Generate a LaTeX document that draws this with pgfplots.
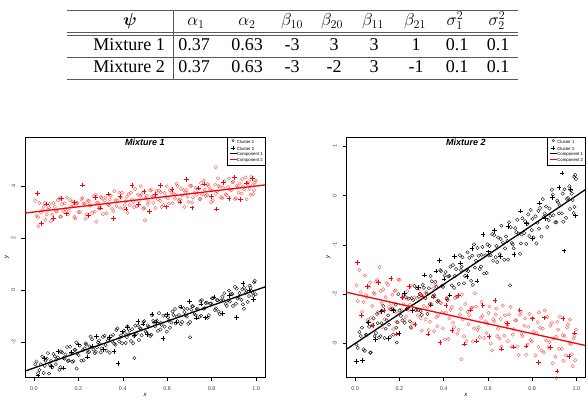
\documentclass[border=0pt]{standalone}
\usepackage{pgfplots}
\pgfplotsset{compat=1.18}
\usepackage{bm}
\usepackage{fontspec}
\setmainfont{Liberation Serif}
\newfontfamily\hv{Liberation Sans}
\definecolor{rulegray}{gray}{0.35}
\begin{document}
\begin{tikzpicture}
\path[use as bounding box] (0pt,0pt) rectangle (588pt,399pt);
% ---------- parameter table ----------
\begin{scope}[every node/.style={font=\fontsize{18}{20}\selectfont, anchor=base, inner sep=0pt}]
\draw[rulegray, line width=0.8pt] (67pt,389pt) -- (518pt,389pt);
\draw[rulegray, line width=0.8pt] (67pt,366.7pt) -- (518pt,366.7pt);
\draw[rulegray, line width=0.8pt] (67pt,364pt) -- (518pt,364pt);
\draw[rulegray, line width=0.8pt] (67pt,341.7pt) -- (518pt,341.7pt);
\draw[rulegray, line width=0.8pt] (67pt,320pt) -- (518pt,320pt);
\draw[rulegray, line width=0.8pt] (173pt,389pt) -- (173pt,320pt);
\node at (130pt,373.5pt) {$\bm{\psi}$};
\node at (196pt,373.5pt) {$\alpha_1$};
\node at (247pt,373.5pt) {$\alpha_2$};
\node at (292pt,373.5pt) {$\beta_{10}$};
\node at (332pt,373.5pt) {$\beta_{20}$};
\node at (373pt,373.5pt) {$\beta_{11}$};
\node at (415pt,373.5pt) {$\beta_{21}$};
\node at (455pt,373.5pt) {$\sigma_1^2$};
\node at (497pt,373.5pt) {$\sigma_2^2$};
\node at (129pt,348.3pt) {Mixture 1};
\node at (194pt,348.3pt) {0.37};
\node at (247pt,348.3pt) {0.63};
\node at (292pt,348.3pt) {-3};
\node at (334pt,348.3pt) {3};
\node at (374pt,348.3pt) {3};
\node at (416pt,348.3pt) {1};
\node at (457pt,348.3pt) {0.1};
\node at (498pt,348.3pt) {0.1};
\node at (129pt,326.3pt) {Mixture 2};
\node at (194pt,326.3pt) {0.37};
\node at (247pt,326.3pt) {0.63};
\node at (292pt,326.3pt) {-3};
\node at (334pt,326.3pt) {-2};
\node at (374pt,326.3pt) {3};
\node at (416pt,326.3pt) {-1};
\node at (457pt,326.3pt) {0.1};
\node at (498pt,326.3pt) {0.1};
\end{scope}
% ---------- common style ----------
\pgfplotsset{
  rplot/.style={
    scale only axis, width=240pt, height=240pt,
    anchor=south west, clip=false,
    axis line style={black, line width=0.6pt},
    tick align=outside, major tick length=3.5pt,
    tick style={black, line width=0.5pt},
    xtick pos=bottom, ytick pos=left,
    xmin=-0.04, xmax=1.04,
    xtick={0,0.2,0.4,0.6,0.8,1.0},
    xticklabels={0.0,0.2,0.4,0.6,0.8,1.0},
    tick label style={font=\hv\fontsize{5.5}{6}\selectfont, text=black!75, inner sep=0pt},
    xticklabel style={anchor=north},
    yticklabel style={rotate=90, anchor=south},
    xticklabel shift=6pt, yticklabel shift=6pt,
    xlabel={x}, ylabel={y},
    xlabel style={font=\hv\itshape\fontsize{6}{7}\selectfont, at={(axis description cs:0.5,-0.075)}, anchor=center},
    ylabel style={font=\hv\itshape\fontsize{6}{7}\selectfont, at={(axis description cs:-0.075,0.5)}, anchor=center, rotate=0},
    title style={font=\hv\bfseries\itshape\fontsize{9}{10}\selectfont, at={(axis description cs:0.5,1)}, anchor=north, yshift=-4pt},
    legend cell align=left,
    legend style={at={(1,1)}, anchor=north east, draw=black, line width=0.4pt,
      font=\hv\fontsize{4.3}{5}\selectfont, inner xsep=2pt, inner ysep=2.2pt,
      row sep=1.6pt, nodes={inner sep=0pt, text height=3.2pt, text depth=0.9pt},
      /tikz/every even column/.append style={column sep=3pt}},
  },
  bc/.style={only marks, mark=o, black, mark size=1.7pt, mark options={line width=0.35pt}, forget plot},
  bp/.style={only marks, mark=+, black, mark size=2.3pt, mark options={line width=0.75pt}, forget plot},
  rc/.style={only marks, mark=o, red, mark size=1.7pt, mark options={line width=0.35pt, draw opacity=0.7}, forget plot},
  rp/.style={only marks, mark=+, red, mark size=2.3pt, mark options={line width=0.75pt}, forget plot},
}
% ---------- Mixture 1 ----------
\begin{axis}[rplot, at={(25pt,22pt)}, ymin=-3.346, ymax=5.885,
  ytick={-2,0,2,4}, yticklabels={-2,0,2,4}, title={Mixture 1}]
\addplot[bc] coordinates {
(0.012,-2.75)(0.025,-3.08)(0.031,-2.86)(0.044,-3.19)(0.052,-2.72)(0.063,-2.43)(0.071,-2.87)(0.083,-2.97)(0.094,-2.55)(0.102,-2.67)
(0.115,-3.07)(0.121,-2.37)(0.138,-2.64)(0.142,-2.48)(0.157,-2.71)(0.163,-2.18)(0.178,-2.74)(0.186,-2.30)(0.195,-2.44)(0.207,-2.14)
(0.214,-2.72)(0.229,-2.24)(0.236,-2.10)(0.248,-2.38)(0.255,-1.79)(0.268,-2.29)(0.274,-2.43)(0.289,-2.02)(0.296,-2.08)(0.305,-2.25)
(0.318,-1.76)(0.327,-2.33)(0.333,-1.94)(0.346,-1.78)(0.352,-1.98)(0.367,-2.10)(0.371,-1.54)(0.384,-1.98)(0.392,-1.74)(0.405,-1.56)
(0.413,-2.04)(0.426,-1.71)(0.431,-1.56)(0.447,-2.05)(0.456,-1.37)(0.462,-1.68)(0.478,-1.47)(0.485,-1.74)(0.497,-1.20)(0.503,-1.60)
(0.516,-1.41)(0.524,-1.77)(0.537,-1.19)(0.541,-1.25)(0.558,-1.57)(0.563,-0.89)(0.575,-1.34)(0.588,-1.41)(0.594,-0.97)(0.607,-1.18)
(0.612,-1.45)(0.628,-0.96)(0.635,-0.73)(0.646,-1.20)(0.653,-0.96)(0.667,-1.23)(0.674,-0.70)(0.682,-0.98)(0.695,-1.30)(0.708,-0.76)
(0.716,-0.63)(0.723,-0.93)(0.738,-0.74)(0.745,-1.03)(0.756,-0.39)(0.764,-0.72)(0.779,-0.49)(0.787,-0.97)(0.793,-0.53)(0.806,-0.31)
(0.815,-0.77)(0.824,-0.39)(0.836,-0.93)(0.842,-0.41)(0.857,-0.13)(0.863,-0.53)(0.874,-0.40)(0.889,-0.14)(0.896,-0.61)(0.905,0.12)
(0.917,-0.33)(0.925,-0.12)(0.934,-0.38)(0.946,0.08)(0.953,-0.11)(0.962,-0.46)(0.975,0.09)(0.983,-0.10)(0.991,0.29)(0.998,-0.16)
(0.703,-1.82)(0.452,-2.62)(0.192,-3.02)(0.945,-0.72)
(0.006,-2.86)(0.019,-3.20)(0.038,-2.56)(0.049,-2.92)(0.058,-2.64)(0.068,-3.21)(0.077,-2.73)(0.088,-2.46)(0.099,-2.85)(0.108,-2.59)
(0.119,-2.97)(0.127,-2.40)(0.133,-2.62)(0.149,-2.19)(0.153,-2.73)(0.168,-2.43)(0.172,-2.76)(0.183,-2.30)(0.191,-2.02)(0.201,-2.50)
(0.219,-2.32)(0.224,-2.70)(0.233,-2.05)(0.242,-2.40)(0.251,-2.17)(0.262,-1.90)(0.279,-2.38)(0.284,-2.20)(0.293,-1.94)(0.301,-2.40)
(0.311,-1.80)(0.322,-2.12)(0.338,-1.86)(0.341,-2.41)(0.357,-1.72)(0.362,-2.07)(0.376,-1.48)(0.388,-1.83)(0.397,-2.05)(0.409,-1.66)
(0.418,-1.81)(0.421,-1.40)(0.437,-1.96)(0.442,-1.51)(0.451,-1.77)(0.468,-1.37)(0.473,-1.93)(0.481,-1.50)(0.492,-1.23)(0.508,-1.66)
(0.512,-1.36)(0.529,-1.72)(0.532,-0.96)(0.546,-1.40)(0.553,-1.17)(0.569,-1.52)(0.571,-1.26)(0.583,-0.99)(0.598,-1.60)(0.603,-1.05)
(0.619,-1.25)(0.624,-0.83)(0.638,-1.29)(0.642,-1.02)(0.658,-0.65)(0.661,-1.31)(0.677,-0.85)(0.688,-1.02)(0.691,-0.72)(0.703,-1.23)
(0.712,-0.62)(0.728,-0.96)(0.733,-0.73)(0.749,-0.42)(0.752,-0.99)(0.768,-0.70)(0.773,-0.50)(0.782,-1.07)(0.798,-0.52)(0.801,-0.32)
(0.819,-0.71)(0.828,-0.39)(0.831,-0.83)(0.848,-0.26)(0.852,-0.40)(0.868,-0.61)(0.878,-0.02)(0.882,-0.44)(0.893,-0.16)(0.909,-0.53)
(0.913,0.05)(0.921,-0.28)(0.938,0.03)(0.941,-0.55)(0.957,-0.03)(0.968,-0.23)(0.971,0.17)(0.979,-0.04)(0.987,-0.23)(0.994,0.35)};
\addplot[bp] coordinates {
(0.018,-3.30)(0.047,-2.64)(0.078,-2.95)(0.108,-2.37)(0.133,-3.00)(0.168,-2.38)(0.202,-2.11)(0.241,-2.58)(0.262,-2.16)(0.283,-1.79)
(0.312,-2.28)(0.339,-1.83)(0.361,-2.37)(0.378,-2.82)(0.398,-1.61)(0.421,-1.44)(0.452,-1.76)(0.468,-1.22)(0.491,-1.31)(0.512,-1.71)
(0.531,-0.93)(0.552,-1.24)(0.581,-1.86)(0.601,-0.94)(0.641,-1.23)(0.662,-0.66)(0.701,-0.44)(0.733,-1.08)(0.752,-0.54)(0.771,-1.07)
(0.811,-0.27)(0.848,-0.91)(0.881,-0.22)(0.912,-1.06)(0.941,0.24)(0.968,0.00)(0.988,-0.36)};
\addplot[rc] coordinates {
(0.012,2.86)(0.025,3.35)(0.031,2.98)(0.044,3.20)(0.052,2.70)(0.063,3.09)(0.071,3.31)(0.083,2.90)(0.094,3.20)(0.102,3.02)
(0.115,3.52)(0.121,2.82)(0.138,3.33)(0.142,3.12)(0.157,3.04)(0.163,3.46)(0.178,3.24)(0.186,2.75)(0.195,3.34)(0.207,3.00)
(0.214,3.48)(0.229,3.32)(0.236,2.91)(0.248,3.42)(0.255,3.25)(0.268,3.61)(0.274,3.01)(0.289,3.34)(0.296,3.20)(0.305,3.53)
(0.318,3.44)(0.327,2.95)(0.333,3.30)(0.346,3.63)(0.352,3.12)(0.367,3.45)(0.371,3.23)(0.384,3.75)(0.392,3.55)(0.405,3.12)
(0.413,3.41)(0.426,3.68)(0.431,3.26)(0.447,3.39)(0.456,3.88)(0.462,3.22)(0.478,3.61)(0.485,3.69)(0.497,3.16)(0.503,3.54)
(0.516,3.41)(0.524,3.83)(0.537,3.35)(0.541,3.64)(0.558,3.49)(0.563,3.82)(0.575,3.19)(0.588,3.74)(0.594,3.60)(0.607,3.33)
(0.612,3.84)(0.628,3.71)(0.635,3.51)(0.646,4.00)(0.653,3.45)(0.667,3.63)(0.674,3.85)(0.682,3.74)(0.695,3.39)(0.708,4.00)
(0.716,3.56)(0.723,3.75)(0.738,3.85)(0.745,3.50)(0.756,3.67)(0.764,4.21)(0.779,3.66)(0.787,3.98)(0.793,3.86)(0.806,3.45)
(0.815,4.06)(0.824,3.80)(0.836,3.98)(0.842,3.57)(0.857,4.19)(0.863,3.68)(0.874,3.96)(0.889,3.84)(0.896,4.17)(0.905,3.50)
(0.917,3.94)(0.925,4.10)(0.934,3.71)(0.946,3.87)(0.953,4.33)(0.962,4.08)(0.975,3.66)(0.983,4.03)(0.991,3.84)(0.998,4.21)
(0.818,4.72)(0.020,2.45)(0.280,2.62)(0.500,2.68)
(0.006,3.43)(0.019,2.80)(0.038,3.06)(0.049,3.35)(0.058,2.91)(0.068,3.18)(0.077,2.65)(0.088,3.34)(0.099,3.05)(0.108,3.46)
(0.119,2.82)(0.127,3.31)(0.133,3.03)(0.149,3.55)(0.153,2.91)(0.168,3.21)(0.172,3.40)(0.183,2.81)(0.191,3.34)(0.201,3.00)
(0.219,3.54)(0.224,3.33)(0.233,2.75)(0.242,3.45)(0.251,3.25)(0.262,2.97)(0.279,3.66)(0.284,3.36)(0.293,3.13)(0.301,3.58)
(0.311,2.92)(0.322,3.56)(0.338,3.25)(0.341,3.48)(0.357,3.03)(0.362,3.80)(0.376,3.44)(0.388,3.16)(0.397,3.74)(0.409,3.28)
(0.418,3.58)(0.421,2.97)(0.437,3.74)(0.442,3.48)(0.451,3.19)(0.468,3.67)(0.473,3.42)(0.481,3.99)(0.492,3.13)(0.508,3.62)
(0.512,3.30)(0.529,3.86)(0.532,3.60)(0.546,3.15)(0.553,3.81)(0.569,3.43)(0.571,3.75)(0.583,3.27)(0.598,3.99)(0.603,3.53)
(0.619,3.75)(0.624,3.34)(0.638,3.65)(0.642,4.09)(0.658,3.48)(0.661,3.90)(0.677,3.19)(0.688,3.84)(0.691,3.59)(0.703,4.01)
(0.712,3.37)(0.728,3.94)(0.733,3.67)(0.749,3.50)(0.752,4.11)(0.768,3.86)(0.773,3.62)(0.782,4.07)(0.798,3.37)(0.801,3.82)
(0.819,3.70)(0.828,4.30)(0.831,4.00)(0.848,3.53)(0.852,3.93)(0.868,3.65)(0.878,4.29)(0.882,3.86)(0.893,4.14)(0.909,3.53)
(0.913,4.01)(0.921,3.75)(0.938,4.26)(0.941,3.99)(0.957,3.49)(0.968,4.19)(0.971,3.89)(0.979,4.36)(0.987,3.69)(0.994,4.13)};
\addplot[rp] coordinates {
(0.015,3.72)(0.034,2.55)(0.058,3.31)(0.088,2.74)(0.124,3.52)(0.148,2.93)(0.182,3.36)(0.219,4.04)(0.245,2.87)(0.278,3.56)
(0.301,3.15)(0.336,3.69)(0.358,2.74)(0.388,3.59)(0.415,3.12)(0.442,4.02)(0.472,3.29)(0.495,3.80)(0.521,3.02)(0.548,3.67)
(0.571,4.02)(0.598,3.20)(0.622,3.87)(0.658,3.38)(0.688,4.24)(0.712,3.16)(0.741,3.92)(0.768,4.07)(0.798,3.60)(0.821,3.12)
(0.852,4.13)(0.878,3.53)(0.902,4.32)(0.931,3.48)(0.958,4.11)(0.985,4.29)};
\addplot[black, line width=1.3pt, forget plot] coordinates {(-0.04,-3.12) (1.04,0.12)};
\addplot[red, line width=1.3pt, forget plot] coordinates {(-0.04,2.96) (1.04,4.04)};
\addlegendimage{legend image code/.code={\draw[black, line width=0.35pt] (3.5pt,1.2pt) circle (1.1pt);}}
\addlegendentry{Cluster 1}
\addlegendimage{legend image code/.code={\draw[black, line width=0.7pt] (1.5pt,1.2pt) -- (5.5pt,1.2pt) (3.5pt,-0.8pt) -- (3.5pt,3.2pt);}}
\addlegendentry{Cluster 2}
\addlegendimage{legend image code/.code={\draw[black, line width=0.8pt] (0pt,1.2pt) -- (7pt,1.2pt);}}
\addlegendentry{Component 1}
\addlegendimage{legend image code/.code={\draw[red, line width=0.8pt] (0pt,1.2pt) -- (7pt,1.2pt);}}
\addlegendentry{Component 2}
\end{axis}
% ---------- Mixture 2 ----------
\begin{axis}[rplot, at={(346.3pt,22pt)}, width=239pt, ymin=-3.68, ymax=1.19,
  ytick={-3,-2,-1,0,1}, yticklabels={-3,-2,-1,0,1}, title={Mixture 2}]
\addplot[bc] coordinates {
(0.012,-3.09)(0.025,-2.85)(0.031,-2.68)(0.044,-3.15)(0.052,-2.83)(0.063,-2.66)(0.071,-3.18)(0.083,-2.49)(0.094,-2.79)(0.102,-2.59)
(0.115,-2.85)(0.121,-2.33)(0.138,-2.70)(0.142,-2.53)(0.157,-2.87)(0.163,-2.31)(0.178,-2.34)(0.186,-2.68)(0.195,-2.00)(0.207,-2.44)
(0.214,-2.53)(0.229,-2.06)(0.236,-2.29)(0.248,-2.55)(0.255,-2.08)(0.268,-1.83)(0.274,-2.32)(0.289,-2.05)(0.296,-2.34)(0.305,-1.81)
(0.318,-2.08)(0.327,-2.40)(0.333,-1.88)(0.346,-1.74)(0.352,-2.04)(0.367,-1.85)(0.371,-2.15)(0.384,-1.51)(0.392,-1.83)(0.405,-1.62)
(0.413,-2.09)(0.426,-1.63)(0.431,-1.44)(0.447,-1.87)(0.456,-1.49)(0.462,-2.05)(0.478,-1.51)(0.485,-1.25)(0.497,-1.63)(0.503,-1.51)
(0.516,-1.26)(0.524,-1.73)(0.537,-0.99)(0.541,-1.46)(0.558,-1.22)(0.563,-1.49)(0.575,-1.04)(0.588,-1.21)(0.594,-1.57)(0.607,-1.02)
(0.612,-1.21)(0.628,-0.80)(0.635,-1.25)(0.646,-0.85)(0.653,-1.19)(0.667,-0.95)(0.674,-1.30)(0.682,-0.83)(0.695,-0.54)(0.708,-0.96)
(0.716,-1.07)(0.723,-0.66)(0.738,-0.77)(0.745,-1.18)(0.756,-0.46)(0.764,-0.76)(0.779,-0.57)(0.787,-0.82)(0.793,-0.29)(0.806,-0.85)
(0.815,-0.42)(0.824,-0.55)(0.836,-0.25)(0.842,-0.83)(0.857,-0.36)(0.863,-0.22)(0.874,-0.50)(0.889,0.12)(0.896,-0.40)(0.905,-0.54)
(0.917,-0.14)(0.925,-0.20)(0.934,-0.36)(0.946,0.13)(0.953,-0.45)(0.962,-0.05)(0.975,0.11)(0.983,-0.09)(0.991,-0.23)(0.998,0.34)
(0.188,-2.98)(0.700,-1.82)(0.990,0.38)
(0.006,-3.02)(0.019,-2.77)(0.038,-3.12)(0.049,-2.82)(0.058,-2.57)(0.068,-3.19)(0.077,-2.63)(0.088,-2.85)(0.099,-2.40)(0.108,-2.88)
(0.119,-2.59)(0.127,-2.24)(0.133,-2.89)(0.149,-2.43)(0.153,-2.62)(0.168,-2.29)(0.172,-2.82)(0.183,-2.21)(0.191,-2.57)(0.201,-2.33)
(0.219,-2.01)(0.224,-2.58)(0.233,-2.30)(0.242,-2.09)(0.251,-2.67)(0.262,-2.12)(0.279,-1.88)(0.284,-2.32)(0.293,-1.99)(0.301,-2.42)
(0.311,-1.87)(0.322,-1.99)(0.338,-2.20)(0.341,-1.63)(0.357,-2.02)(0.362,-1.75)(0.376,-2.13)(0.388,-1.53)(0.397,-1.85)(0.409,-1.55)
(0.418,-2.12)(0.421,-1.64)(0.437,-1.82)(0.442,-1.41)(0.451,-1.63)(0.468,-1.79)(0.473,-1.21)(0.481,-1.44)(0.492,-1.78)(0.508,-1.15)
(0.512,-1.53)(0.529,-1.22)(0.532,-1.81)(0.546,-1.32)(0.553,-1.06)(0.569,-1.44)(0.571,-1.20)(0.583,-1.58)(0.598,-0.99)(0.603,-1.21)
(0.619,-0.78)(0.624,-1.32)(0.638,-1.02)(0.642,-1.35)(0.658,-0.88)(0.661,-0.61)(0.677,-1.07)(0.688,-0.92)(0.691,-1.30)(0.703,-0.64)
(0.712,-0.99)(0.728,-0.74)(0.733,-0.49)(0.749,-0.97)(0.752,-0.79)(0.768,-0.52)(0.773,-0.98)(0.782,-0.38)(0.798,-0.70)(0.801,-0.47)
(0.819,-0.97)(0.828,-0.31)(0.831,-0.67)(0.848,-0.07)(0.852,-0.43)(0.868,-0.64)(0.878,-0.26)(0.882,-0.41)(0.893,0.02)(0.909,-0.54)
(0.913,-0.10)(0.921,-0.36)(0.938,0.04)(0.941,-0.53)(0.957,-0.07)(0.968,0.19)(0.971,-0.27)(0.979,0.04)(0.987,-0.35)(0.994,0.42)};
\addplot[bp] coordinates {
(0.005,-3.37)(0.032,-3.35)(0.061,-2.57)(0.092,-2.92)(0.118,-2.35)(0.151,-2.90)(0.172,-2.33)(0.199,-2.80)(0.223,-1.98)(0.258,-2.33)
(0.287,-1.86)(0.314,-1.61)(0.342,-2.22)(0.365,-1.53)(0.381,-1.31)(0.402,-1.69)(0.428,-2.02)(0.449,-1.23)(0.476,-1.37)(0.505,-1.64)
(0.528,-1.07)(0.551,-1.73)(0.578,-0.79)(0.603,-1.14)(0.631,-0.71)(0.657,-1.23)(0.691,-0.63)(0.718,-1.20)(0.747,-0.31)(0.774,-0.56)
(0.802,-0.87)(0.833,-0.15)(0.861,-0.47)(0.893,-0.04)(0.921,0.16)(0.944,-1.12)(0.972,0.12)(0.996,-0.41)(0.935,0.46)};
\addplot[rc] coordinates {
(0.012,-2.14)(0.025,-1.96)(0.031,-2.36)(0.044,-1.62)(0.052,-2.06)(0.063,-1.85)(0.071,-2.48)(0.083,-1.97)(0.094,-1.75)(0.102,-2.36)
(0.115,-1.94)(0.121,-2.67)(0.138,-2.06)(0.142,-1.77)(0.157,-2.31)(0.163,-2.19)(0.178,-1.94)(0.186,-2.56)(0.195,-1.70)(0.207,-2.31)
(0.214,-2.07)(0.229,-2.45)(0.236,-1.94)(0.248,-2.21)(0.255,-2.69)(0.268,-2.07)(0.274,-2.33)(0.289,-1.89)(0.296,-2.49)(0.305,-2.04)
(0.318,-2.51)(0.327,-2.27)(0.333,-2.73)(0.346,-2.20)(0.352,-1.88)(0.367,-2.47)(0.371,-2.65)(0.384,-2.17)(0.392,-2.37)(0.405,-2.92)
(0.413,-2.07)(0.426,-2.49)(0.431,-2.32)(0.447,-2.67)(0.456,-2.05)(0.462,-2.80)(0.478,-2.30)(0.485,-2.51)(0.497,-2.20)(0.503,-2.95)
(0.516,-2.43)(0.524,-2.28)(0.537,-2.69)(0.541,-1.98)(0.558,-2.67)(0.563,-2.87)(0.575,-2.44)(0.588,-2.55)(0.594,-2.79)(0.607,-2.25)
(0.612,-3.00)(0.628,-2.55)(0.635,-2.41)(0.646,-2.70)(0.653,-2.90)(0.667,-2.23)(0.674,-2.84)(0.682,-2.58)(0.695,-2.41)(0.708,-3.06)
(0.716,-2.71)(0.723,-2.53)(0.738,-3.23)(0.745,-2.42)(0.756,-2.85)(0.764,-2.64)(0.779,-3.02)(0.787,-2.40)(0.793,-2.93)(0.806,-2.76)
(0.815,-3.24)(0.824,-2.57)(0.836,-2.68)(0.842,-3.14)(0.857,-2.33)(0.863,-2.94)(0.874,-3.08)(0.889,-2.58)(0.896,-2.90)(0.905,-3.27)
(0.917,-2.72)(0.925,-2.46)(0.934,-3.11)(0.946,-2.85)(0.953,-3.24)(0.962,-2.61)(0.975,-3.01)(0.983,-3.46)(0.991,-2.84)(0.998,-2.72)
(0.480,-3.32)(0.910,-3.70)(0.110,-1.45)
(0.006,-1.82)(0.019,-1.51)(0.038,-2.16)(0.049,-2.02)(0.058,-2.52)(0.068,-1.76)(0.077,-2.24)(0.088,-1.99)(0.099,-1.71)(0.108,-2.38)
(0.119,-2.18)(0.127,-1.90)(0.133,-2.51)(0.149,-1.81)(0.153,-2.26)(0.168,-2.01)(0.172,-2.71)(0.183,-1.92)(0.191,-2.39)(0.201,-1.71)
(0.219,-2.21)(0.224,-2.52)(0.233,-2.09)(0.242,-2.32)(0.251,-1.83)(0.262,-2.60)(0.279,-2.08)(0.284,-2.43)(0.293,-2.00)(0.301,-2.74)
(0.311,-2.24)(0.322,-1.96)(0.338,-2.56)(0.341,-2.22)(0.357,-2.75)(0.362,-1.81)(0.376,-2.43)(0.388,-2.18)(0.397,-2.69)(0.409,-2.37)
(0.418,-2.09)(0.421,-2.91)(0.437,-2.26)(0.442,-2.58)(0.451,-2.08)(0.468,-2.72)(0.473,-2.41)(0.481,-2.01)(0.492,-2.85)(0.508,-2.36)
(0.512,-2.61)(0.529,-2.27)(0.532,-2.96)(0.546,-2.25)(0.553,-2.73)(0.569,-2.48)(0.571,-2.16)(0.583,-2.89)(0.598,-2.60)(0.603,-2.38)
(0.619,-3.14)(0.624,-2.51)(0.638,-2.29)(0.642,-2.85)(0.658,-2.50)(0.661,-3.06)(0.677,-2.43)(0.688,-2.64)(0.691,-2.95)(0.703,-2.26)
(0.712,-2.82)(0.728,-2.53)(0.733,-3.06)(0.749,-2.36)(0.752,-2.80)(0.768,-2.49)(0.773,-3.23)(0.782,-2.66)(0.798,-2.96)(0.801,-2.48)
(0.819,-2.79)(0.828,-3.07)(0.831,-2.37)(0.848,-2.70)(0.852,-3.18)(0.868,-2.46)(0.878,-2.97)(0.882,-2.64)(0.893,-3.40)(0.909,-2.86)
(0.913,-2.56)(0.921,-3.11)(0.938,-2.83)(0.941,-3.35)(0.957,-2.68)(0.968,-2.99)(0.971,-2.52)(0.979,-3.22)(0.987,-2.90)(0.994,-3.34)};
\addplot[rp] coordinates {
(0.010,-1.36)(0.028,-2.43)(0.055,-1.84)(0.081,-2.63)(0.105,-1.76)(0.131,-2.33)(0.162,-1.68)(0.188,-2.81)(0.215,-2.07)(0.243,-1.84)
(0.271,-2.62)(0.302,-2.05)(0.329,-2.81)(0.355,-2.06)(0.383,-2.98)(0.411,-2.23)(0.438,-2.74)(0.466,-2.02)(0.493,-3.01)(0.522,-2.32)
(0.549,-2.95)(0.577,-2.23)(0.605,-2.86)(0.632,-2.13)(0.661,-3.11)(0.689,-2.59)(0.716,-3.07)(0.744,-2.32)(0.772,-3.05)(0.801,-2.50)
(0.828,-3.38)(0.855,-2.48)(0.884,-3.08)(0.912,-3.56)(0.939,-2.49)(0.966,-3.27)(0.992,-2.79)};
\addplot[black, line width=1.3pt, forget plot] coordinates {(-0.04,-3.12) (1.04,0.12)};
\addplot[red, line width=1.3pt, forget plot] coordinates {(-0.04,-1.96) (1.04,-3.04)};
\addlegendimage{legend image code/.code={\draw[black, line width=0.35pt] (3.5pt,1.2pt) circle (1.1pt);}}
\addlegendentry{Cluster 1}
\addlegendimage{legend image code/.code={\draw[black, line width=0.7pt] (1.5pt,1.2pt) -- (5.5pt,1.2pt) (3.5pt,-0.8pt) -- (3.5pt,3.2pt);}}
\addlegendentry{Cluster 2}
\addlegendimage{legend image code/.code={\draw[black, line width=0.8pt] (0pt,1.2pt) -- (7pt,1.2pt);}}
\addlegendentry{Component 1}
\addlegendimage{legend image code/.code={\draw[red, line width=0.8pt] (0pt,1.2pt) -- (7pt,1.2pt);}}
\addlegendentry{Component 2}
\end{axis}
\end{tikzpicture}
\end{document}
